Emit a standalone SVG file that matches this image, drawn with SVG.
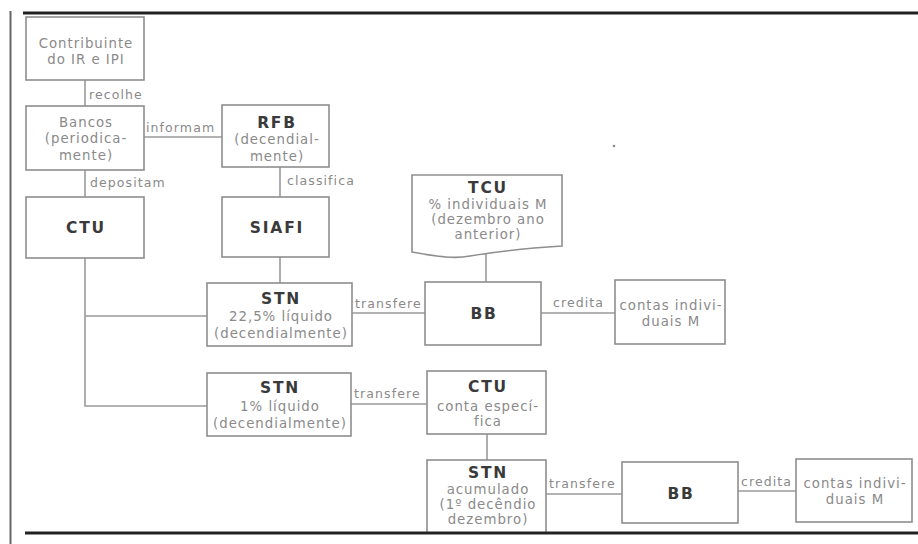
<svg xmlns="http://www.w3.org/2000/svg" width="918" height="544" viewBox="0 0 918 544">
<style>
.box{fill:#fff;stroke:#8e8e8e;stroke-width:1.6}
.t{font-family:"DejaVu Sans",sans-serif;font-size:13.3px;fill:#8a8a8a;letter-spacing:1px;text-anchor:middle}
.b{font-family:"DejaVu Sans",sans-serif;font-size:15.5px;font-weight:bold;fill:#3a3a3a;letter-spacing:1.8px;text-anchor:middle}
.l{font-family:"DejaVu Sans",sans-serif;font-size:12.5px;fill:#8a8a8a;letter-spacing:1.1px}
.c{fill:none;stroke:#9a9a9a;stroke-width:1.6}
.frame{stroke:#222;stroke-width:3}
</style>
<rect width="918" height="544" fill="#fff"/>
<g id="frame">
<line class="frame" x1="23" y1="13" x2="918" y2="13"/>
<line x1="10.5" y1="11" x2="10.5" y2="544" stroke="#666" stroke-width="2"/>
<circle cx="614" cy="146" r="1.3" fill="#888"/>
</g>
<g id="connectors">
<line class="c" x1="85" y1="80" x2="85" y2="106"/>
<line class="c" x1="144" y1="137" x2="222" y2="137"/>
<line class="c" x1="85" y1="170" x2="85" y2="197"/>
<line class="c" x1="280" y1="167" x2="280" y2="197"/>
<polyline class="c" points="85,258 85,406 207,406"/>
<line class="c" x1="85" y1="316" x2="207" y2="316"/>
<line class="c" x1="280" y1="257" x2="280" y2="283"/>
<line class="c" x1="352" y1="313" x2="425" y2="313"/>
<line class="c" x1="541" y1="313" x2="615" y2="313"/>
<line class="c" x1="486" y1="252" x2="486" y2="282"/>
<line class="c" x1="351" y1="404" x2="427" y2="404"/>
<line class="c" x1="487" y1="434" x2="487" y2="460"/>
<line class="c" x1="546" y1="494" x2="622" y2="494"/>
<line class="c" x1="738" y1="491" x2="796" y2="491"/>
<text class="l" x="89" y="99">recolhe</text>
<text class="l" x="146" y="132">informam</text>
<text class="l" x="90" y="187">depositam</text>
<text class="l" x="287" y="185">classifica</text>
<text class="l" x="355" y="308">transfere</text>
<text class="l" x="553" y="307">credita</text>
<text class="l" x="354" y="398">transfere</text>
<text class="l" x="549" y="488">transfere</text>
<text class="l" x="741" y="486">credita</text>
</g>
<g id="contribuinte">
<rect class="box" x="26" y="17" width="118" height="63"/>
<text class="t" x="86" y="48">Contribuinte</text>
<text class="t" x="86" y="64">do IR e IPI</text>
</g>
<g id="bancos">
<rect class="box" x="26" y="106" width="118" height="64"/>
<text class="t" x="86" y="127">Bancos</text>
<text class="t" x="86" y="143">(periodica-</text>
<text class="t" x="86" y="160">mente)</text>
</g>
<g id="rfb">
<rect class="box" x="222" y="105" width="107" height="62"/>
<text class="b" x="277" y="128">RFB</text>
<text class="t" x="277" y="144">(decendial-</text>
<text class="t" x="277" y="161">mente)</text>
</g>
<g id="ctu">
<rect class="box" x="26" y="197" width="118" height="61"/>
<text class="b" x="86" y="233">CTU</text>
</g>
<g id="siafi">
<rect class="box" x="222" y="197" width="107" height="60"/>
<text class="b" x="277" y="233">SIAFI</text>
</g>
<g id="tcu">
<path class="box" d="M412,252 V175 H562 V246 C530,248 500,251 470,256 C455,259 440,257 412,252 Z"/>
<text class="b" x="488" y="193">TCU</text>
<text class="t" x="488" y="209">% individuais M</text>
<text class="t" x="488" y="224">(dezembro ano</text>
<text class="t" x="488" y="239">anterior)</text>
</g>
<g id="stn1">
<rect class="box" x="207" y="283" width="145" height="63"/>
<text class="b" x="281" y="304">STN</text>
<text class="t" x="281" y="321">22,5% líquido</text>
<text class="t" x="281" y="338">(decendialmente)</text>
</g>
<g id="bb1">
<rect class="box" x="425" y="282" width="116" height="63"/>
<text class="b" x="484" y="319">BB</text>
</g>
<g id="contas1">
<rect class="box" x="615" y="280" width="110" height="64"/>
<text class="t" x="671" y="310">contas indivi-</text>
<text class="t" x="671" y="326">duais M</text>
</g>
<g id="stn2">
<rect class="box" x="207" y="373" width="144" height="63"/>
<text class="b" x="280" y="393">STN</text>
<text class="t" x="280" y="411">1% líquido</text>
<text class="t" x="280" y="428">(decendialmente)</text>
</g>
<g id="ctu2">
<rect class="box" x="427" y="371" width="119" height="63"/>
<text class="b" x="488" y="392">CTU</text>
<text class="t" x="488" y="411">conta especí-</text>
<text class="t" x="488" y="426">fica</text>
</g>
<g id="stn3">
<rect class="box" x="427" y="460" width="119" height="74"/>
<text class="b" x="488" y="478">STN</text>
<text class="t" x="488" y="494">acumulado</text>
<text class="t" x="488" y="509">(1º decêndio</text>
<text class="t" x="488" y="524">dezembro)</text>
</g>
<g id="bb2">
<rect class="box" x="622" y="462" width="116" height="61"/>
<text class="b" x="681" y="499">BB</text>
</g>
<g id="contas2">
<rect class="box" x="796" y="459" width="116" height="63"/>
<text class="t" x="855" y="488">contas indivi-</text>
<text class="t" x="855" y="504">duais M</text>
</g>
<g id="bottom">
<rect x="12" y="534" width="906" height="10" fill="#fff"/>
<line class="frame" x1="25" y1="533" x2="918" y2="533"/>
</g>
</svg>
